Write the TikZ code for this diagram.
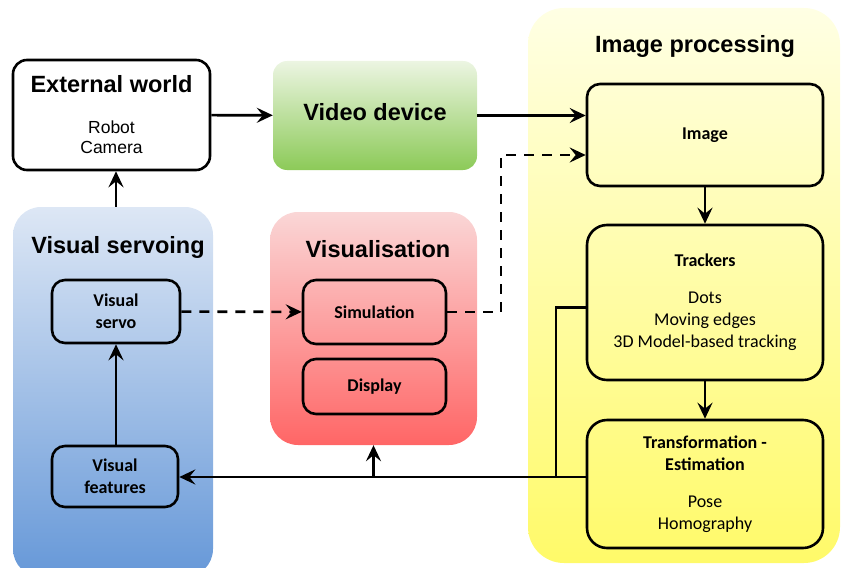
\documentclass[tikz,border=0pt]{standalone}
\usepackage{fontspec}
\setmainfont{Carlito}
\newfontfamily\arialf{Liberation Sans}
\usetikzlibrary{arrows.meta}
\definecolor{gtop}{RGB}{236,245,226}
\definecolor{gbot}{RGB}{140,202,88}
\definecolor{rtop}{RGB}{250,214,214}
\definecolor{rbot}{RGB}{255,102,102}
\definecolor{btop}{RGB}{221,231,245}
\definecolor{bbot}{RGB}{102,152,216}
\definecolor{ytop}{RGB}{255,255,228}
\definecolor{ybot}{RGB}{255,250,105}
\begin{document}
\begin{tikzpicture}[x=1pt,y=-1pt,
  box/.style={draw, line width=2.6pt, rounded corners=13pt, align=center, inner sep=0pt,
    font=\bfseries\fontsize{18}{22}\selectfont},
  region/.style={draw=none, inner sep=0pt, rounded corners=28pt},
  rtitle/.style={font=\arialf\bfseries\fontsize{23.5}{28}\selectfont, anchor=base, inner sep=0pt},
  plain/.style={font=\arialf\fontsize{17.5}{20}\selectfont, anchor=base, inner sep=0pt},
  arr/.style={line width=2.6pt, -{Stealth[length=16pt,width=15pt,inset=6pt]}},
  ln/.style={line width=2.6pt},
  dsh/.style={dash pattern=on 10pt off 8pt}
]
\useasboundingbox (0,0) rectangle (842,567);
\clip (0,0) rectangle (842,567);
% regions
\node[region, rounded corners=36pt, top color=ytop, bottom color=ybot,
  minimum width=312pt, minimum height=555pt] (ipreg) at (684,285.5) {};
\node[region, top color=btop, bottom color=bbot,
  minimum width=200pt, minimum height=370pt] (vsreg) at (113,392) {};
\node[region, top color=rtop, bottom color=rbot,
  minimum width=207pt, minimum height=233pt] (visreg) at (373.5,328.5) {};
\node[region, rounded corners=14pt, top color=gtop, bottom color=gbot,
  minimum width=204pt, minimum height=109pt] (video) at (375,115.5) {};
% external world
\node[box, rounded corners=14pt, minimum width=197pt, minimum height=110pt] (ext) at (111.5,115) {};
% titles
\node[rtitle] (exttitle) at (111.5,93) {External world};
\node[plain] (robot) at (111.5,133) {Robot};
\node[plain] (camera) at (111.5,153) {Camera};
\node[rtitle] (videotitle) at (375,121) {Video device};
\node[rtitle] (iptitle) at (695,53) {Image processing};
\node[rtitle] (vstitle) at (118,253) {Visual servoing};
\node[rtitle] (vistitle) at (378,257) {Visualisation};
% inner boxes
\node[box, minimum width=128pt, minimum height=63pt] (vservo) at (116,311.5) {Visual\\servo};
\node[box, minimum width=126pt, minimum height=61pt] (vfeat) at (115,476.5) {Visual\\features};
\node[box, minimum width=143pt, minimum height=64pt] (sim) at (374.5,312) {Simulation};
\node[box, minimum width=143pt, minimum height=55pt] (disp) at (374.5,386.5) {Display};
\node[box, minimum width=236pt, minimum height=102pt] (image) at (705,135) {Image};
\node[box, rounded corners=20pt, minimum width=236pt, minimum height=155pt] (trackers) at (705,302.5)
  {Trackers\\[15pt]\mdseries Dots\\\mdseries Moving edges\\\mdseries 3D Model-based tracking};
\node[box, rounded corners=20pt, minimum width=236pt, minimum height=128pt] (trans) at (705,484)
  {Transformation -\\Estimation\\[15pt]\mdseries Pose\\\mdseries Homography};
% connectors
\coordinate (dtop) at (501,155);
\coordinate (j) at (556,477);
\draw[arr] (ext) -- (video);
\draw[arr] (video.east) -- (video.east -| image.west);
\draw[arr] (vservo |- vsreg.north) -- (vservo |- ext.south);
\draw[arr] (vfeat.north -| vservo) -- (vservo.south);
\draw[arr, dsh] (vservo) -- (sim);
\draw[arr, dsh] (sim.east) -| (dtop) -- (dtop -| image.west);
\draw[arr] (image) -- (trackers);
\draw[arr] (trackers) -- (trans);
\draw[ln] ([yshift=-5pt]trackers.west) -| (j);
\draw[arr] (j -| trans.west) -- (j -| vfeat.east);
\draw[arr] (j -| visreg.south) -- (visreg.south);
\end{tikzpicture}
\end{document}
